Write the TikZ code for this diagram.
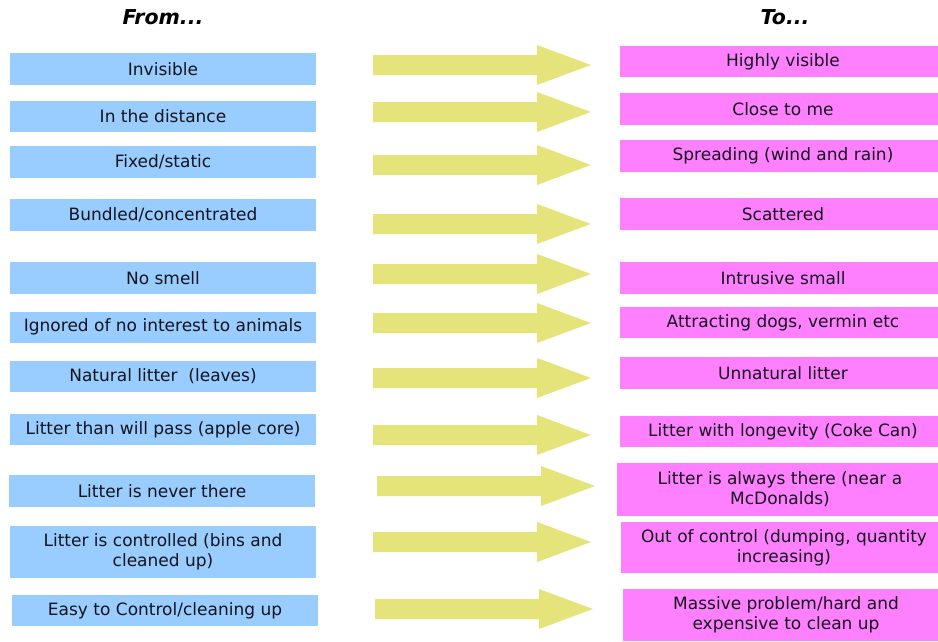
\documentclass[tikz,border=0pt]{standalone}
\usepackage{fontspec}
\setmainfont{DejaVu Sans}
\definecolor{fromblue}{RGB}{153,204,255}
\definecolor{topink}{RGB}{255,128,255}
\definecolor{arrowyellow}{RGB}{228,228,122}
\definecolor{textdark}{RGB}{20,20,28}

\begin{document}
\begin{tikzpicture}[x=1pt,y=-1pt,
  box/.style={inner sep=0pt, align=center, text=textdark,
              font=\fontsize{17}{20}\selectfont},
  frombox/.style={box, fill=fromblue, minimum width=306pt, minimum height=31pt},
  tobox/.style={box, fill=topink, minimum width=326pt, minimum height=31pt},
  header/.style={font=\fontsize{20.5}{24}\selectfont\bfseries\itshape},
  fatarrow/.pic={\fill[arrowyellow] (0,-10) -- (164,-10) -- (164,-20) -- (218,0)
                 -- (164,20) -- (164,10) -- (0,10) -- cycle;}
]
\useasboundingbox (0,0) rectangle (938,641);

% column headings
\node[header] (hfrom) at (163,17) {From...};
\node[header] (hto)   at (785,17) {To...};

% left column: the starting situation
\node[frombox, minimum height=32pt] (f1)  at (163,69)    {Invisible};
\node[frombox] (f2)  at (163,116.5) {In the distance};
\node[frombox, minimum height=32pt] (f3)  at (163,162)   {Fixed/static};
\node[frombox, minimum height=32pt] (f4)  at (163,215)   {Bundled/concentrated};
\node[frombox, minimum height=32pt] (f5)  at (163,278)   {No smell};
\node[frombox] (f6)  at (163,327)   {Ignored of no interest to animals};
\node[frombox] (f7)  at (163,376.5) {Natural litter\ \ (leaves)};
\node[frombox] (f8)  at (163,429.5) {Litter than will pass (apple core)};
\node[frombox, minimum height=32pt] (f9)  at (162,491)   {Litter is never there};
\node[frombox, minimum height=52pt] (f10) at (163,552)   {Litter is controlled (bins and\\cleaned up)};
\node[frombox] (f11) at (165,610.5) {Easy to Control/cleaning up};

% right column: what it turns into
\node[tobox] (t1)  at (783,61.5)  {Highly visible};
\node[tobox, minimum height=32pt] (t2)  at (783,109)   {Close to me};
\node[tobox, minimum height=32pt] (t3)  at (783,156)   {Spreading (wind and rain)};
\node[tobox, minimum height=32pt] (t4)  at (783,214)   {Scattered};
\node[tobox, minimum height=32pt] (t5)  at (783,278)   {Intrusive small};
\node[tobox] (t6)  at (783,322.5) {Attracting dogs, vermin etc};
\node[tobox, minimum height=32pt] (t7)  at (783,373)   {Unnatural litter};
\node[tobox] (t8)  at (783,431.5) {Litter with longevity (Coke Can)};
\node[tobox, minimum height=53pt] (t9)  at (780,489.5) {Litter is always there (near a\\McDonalds)};
\node[tobox, minimum height=51pt] (t10) at (784,547.5) {Out of control (dumping, quantity\\increasing)};
\node[tobox, minimum height=52pt] (t11) at (786,615)   {Massive problem/hard and\\expensive to clean up};

% block arrows between the columns
\pic (a1)  at (373,65)  {fatarrow};
\pic (a2)  at (373,112) {fatarrow};
\pic (a3)  at (373,165) {fatarrow};
\pic (a4)  at (373,224) {fatarrow};
\pic (a5)  at (373,274) {fatarrow};
\pic (a6)  at (373,323) {fatarrow};
\pic (a7)  at (373,378) {fatarrow};
\pic (a8)  at (373,435) {fatarrow};
\pic (a9)  at (377,486) {fatarrow};
\pic (a10) at (373,542) {fatarrow};
\pic (a11) at (375,609) {fatarrow};
\end{tikzpicture}
\end{document}
